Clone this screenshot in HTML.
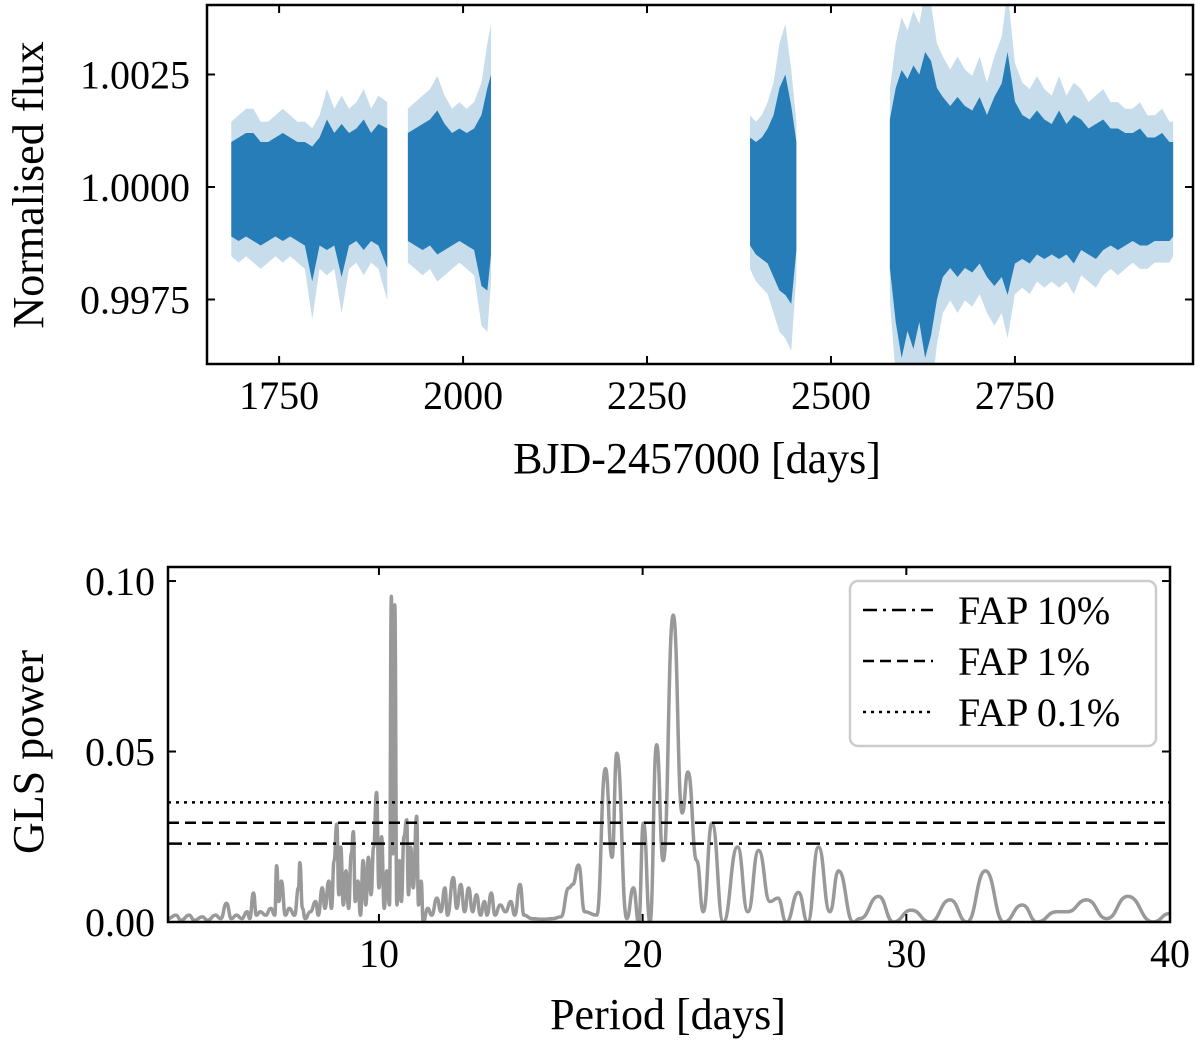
<!DOCTYPE html>
<html><head><meta charset="utf-8"><style>
html,body{margin:0;padding:0;background:#fff;}
svg{display:block;}
text{font-family:"Liberation Serif",serif;fill:#000;}
</style></head><body>
<svg id="fig" width="1200" height="1046" viewBox="0 0 1200 1046" xmlns="http://www.w3.org/2000/svg">
<g id="topPanel"></g>
<g id="botPanel"></g>
</svg>
<script>
// ---- Light curve data (envelopes per time bin, flux-1 in units of 1e-3) ----
const lcTimes = [1685,1695,1705,1715,1725,1735,1745,1755,1765,1775,1785,1795,1805,1815,1825,1835,1845,1855,1865,1875,1885,1897,
 null,
 1925,1935,1945,1955,1965,1975,1985,1995,2005,2015,2025,2033,2038,
 null,
 2390,2398,2406,2414,2422,2430,2438,2446,2453,
 null,
 2580,2588,2596,2604,2612,2620,2628,2636,2644,2652,2662,2672,2682,2692,2702,2712,2722,2732,2740,2750,2760,2770,2780,2790,2800,2810,2820,2830,2840,2850,2860,2870,2880,2890,2900,2910,2920,2930,2940,2950,2960,2965];
const lcCoreHi = [1.0,1.1,1.2,1.2,1.0,1.0,1.1,1.2,1.1,1.0,1.0,0.9,1.1,1.5,1.2,1.4,1.2,1.3,1.5,1.2,1.4,1.3,
 null,
 1.2,1.3,1.4,1.5,1.7,1.4,1.2,1.3,1.2,1.3,1.6,2.2,2.5,
 null,
 1.1,1.0,1.1,1.3,1.6,2.2,2.5,1.8,1.0,
 null,
 1.5,2.2,2.6,2.4,2.7,2.5,3.0,2.8,2.2,2.0,1.8,2.0,1.8,1.7,2.0,1.6,2.0,2.3,3.0,1.9,1.6,1.5,1.7,1.5,1.4,1.7,1.4,1.6,1.5,1.3,1.4,1.5,1.3,1.3,1.2,1.2,1.3,1.1,1.1,1.2,1.0,1.0];
const lcCoreLo = [-1.1,-1.2,-1.1,-1.2,-1.3,-1.2,-1.1,-1.2,-1.1,-1.2,-1.3,-2.1,-1.3,-1.4,-1.3,-2.0,-1.3,-1.2,-1.4,-1.2,-1.3,-1.8,
 null,
 -1.2,-1.3,-1.4,-1.3,-1.5,-1.4,-1.3,-1.2,-1.3,-1.4,-2.2,-2.3,-1.5,
 null,
 -1.3,-1.5,-1.6,-1.7,-2.0,-2.3,-2.4,-2.6,-1.4,
 null,
 -1.8,-3.0,-3.8,-3.2,-3.6,-3.0,-3.8,-3.3,-2.5,-2.0,-1.8,-2.0,-1.8,-1.9,-1.7,-2.0,-2.2,-2.0,-2.4,-1.7,-1.6,-1.7,-1.5,-1.6,-1.5,-1.6,-1.5,-1.7,-1.4,-1.5,-1.6,-1.4,-1.3,-1.4,-1.3,-1.2,-1.3,-1.3,-1.2,-1.2,-1.2,-1.1];
const lcTicks = [1750,2000,2250,2500,2750];
const lcTickLabels = ["1750","2000","2250","2500","2750"];
const fluxTicks = [1.0025,1.0000,0.9975];
const fluxTickLabels = ["1.0025","1.0000","0.9975"];

// ---- Periodogram data ----
const periods = [2.0,2.3,2.5,2.8,3.0,3.3,3.5,3.8,4.0,4.22,4.4,4.6,4.8,5.0,5.1,5.24,5.35,5.5,5.7,5.9,6.05,6.12,6.2,6.3,6.45,6.6,6.8,6.95,7.0,7.1,7.2,7.4,7.6,7.7,7.85,7.95,8.1,8.2,8.3,8.4,8.48,8.55,8.65,8.75,8.85,8.95,9.03,9.1,9.2,9.3,9.4,9.5,9.6,9.7,9.8,9.91,10.0,10.1,10.2,10.3,10.4,10.47,10.53,10.6,10.68,10.78,10.85,10.95,11.05,11.12,11.2,11.3,11.43,11.5,11.6,11.68,11.85,12.0,12.2,12.35,12.5,12.6,12.82,12.95,13.1,13.25,13.4,13.55,13.7,13.85,14.0,14.1,14.26,14.4,14.6,14.8,15.0,15.15,15.35,15.5,15.8,16.2,16.6,16.9,17.2,17.35,17.57,17.8,18.26,18.59,18.84,19.02,19.4,19.65,19.85,20.03,20.28,20.53,20.78,21.16,21.5,21.72,22.05,22.3,22.63,23.06,23.6,23.99,24.4,24.83,25.13,25.45,25.91,26.26,26.67,27.1,27.43,27.99,28.24,28.95,29.51,30.19,30.9,31.66,32.3,33.0,33.7,34.4,34.96,35.7,36.1,36.84,37.6,38.4,39.36,40.0];
const power = [0.001,0.002,0.0005,0.002,0.0005,0.0015,0.0005,0.002,0.001,0.0055,0.001,0.002,0.001,0.003,0.001,0.0085,0.002,0.003,0.002,0.004,0.002,0.0165,0.006,0.012,0.002,0.004,0.002,0.01,0.0174,0.004,0.001,0.003,0.006,0.002,0.01,0.004,0.012,0.004,0.018,0.0287,0.008,0.022,0.005,0.015,0.004,0.02,0.0265,0.006,0.012,0.002,0.018,0.005,0.019,0.008,0.022,0.038,0.010,0.025,0.004,0.015,0.005,0.0955,0.02,0.093,0.005,0.018,0.006,0.025,0.030,0.008,0.022,0.01,0.031,0.005,0.012,0.0,0.004,0.002,0.007,0.003,0.010,0.002,0.013,0.004,0.011,0.003,0.010,0.003,0.008,0.002,0.006,0.002,0.0085,0.002,0.005,0.003,0.006,0.002,0.011,0.002,0.001,0.0008,0.001,0.0015,0.01,0.011,0.0167,0.003,0.002,0.045,0.019,0.0495,0.001,0.010,0.0,0.029,0.0,0.052,0.018,0.090,0.032,0.044,0.018,0.003,0.029,0.0,0.022,0.003,0.021,0.006,0.007,0.0,0.0087,0.0,0.022,0.003,0.015,0.0,0.001,0.0075,0.0,0.0035,0.0,0.0065,0.0,0.015,0.0,0.005,0.0,0.003,0.003,0.0065,0.001,0.0075,0.0,0.0025];
const fapNames = ["FAP 10%","FAP 1%","FAP 0.1%"];
const fapLevels = [0.0230,0.0291,0.0351];
const periodTicks = [10,20,30,40];
const powerTicks = [0.00,0.05,0.10];
const powerTickLabels = ["0.00","0.05","0.10"];

const NS = "http://www.w3.org/2000/svg";
function mk(parent, tag, attrs, txt){const e=document.createElementNS(NS,tag);for(const k in attrs)e.setAttribute(k,attrs[k]);if(txt!==undefined)e.textContent=txt;parent.appendChild(e);return e;}

// ---------- TOP PANEL ----------
const topG = document.getElementById('topPanel');
const T = {l:207,r:1193,t:5,b:364,x0:1652,x1:2992,y0:0.996067,y1:1.004044};
const tx = v => T.l + (v-T.x0)/(T.x1-T.x0)*(T.r-T.l);
const ty = v => T.b - (v-T.y0)/(T.y1-T.y0)*(T.b-T.t);
const tdefs = mk(topG,'defs',{});
const tcp = mk(tdefs,'clipPath',{id:'tclip'});
mk(tcp,'rect',{x:T.l,y:T.t,width:T.r-T.l,height:T.b-T.t});
const tdata = mk(topG,'g',{'clip-path':'url(#tclip)',});

let segs=[],cur=[];
lcTimes.forEach((t,i)=>{ if(t===null){segs.push(cur);cur=[];} else cur.push(i); });
segs.push(cur);
segs.forEach(idx=>{
  let up=idx.map(i=>`${tx(lcTimes[i])},${ty(1+lcCoreHi[i]*1.45e-3)}`);
  let dn=idx.slice().reverse().map(i=>`${tx(lcTimes[i])},${ty(1+lcCoreLo[i]*1.4e-3)}`);
  const halo=mk(tdata,'polygon',{points:up.concat(dn).join(' '),fill:'#1f77b4','fill-opacity':0.25});
  
  
  up=idx.map(i=>`${tx(lcTimes[i])},${ty(1+lcCoreHi[i]*1e-3)}`);
  dn=idx.slice().reverse().map(i=>`${tx(lcTimes[i])},${ty(1+lcCoreLo[i]*1e-3)}`);
  const core=mk(tdata,'polygon',{points:up.concat(dn).join(' '),fill:'#1f77b4','fill-opacity':0.95});
  
  
});
mk(topG,'rect',{x:T.l,y:T.t,width:T.r-T.l,height:T.b-T.t,fill:'none',stroke:'#000','stroke-width':2.5,});
lcTicks.forEach((v,i)=>{
  const x=tx(v);
  mk(topG,'line',{x1:x,x2:x,y1:T.b,y2:T.b-8,stroke:'#000','stroke-width':2,});
  mk(topG,'line',{x1:x,x2:x,y1:T.t,y2:T.t+8,stroke:'#000','stroke-width':2,});
  mk(topG,'text',{x:x,y:409,'text-anchor':'middle','font-size':40,},lcTickLabels[i]);
});
fluxTicks.forEach((v,i)=>{
  const y=ty(v);
  mk(topG,'line',{x1:T.l,x2:T.l+8,y1:y,y2:y,stroke:'#000','stroke-width':2,});
  mk(topG,'line',{x1:T.r,x2:T.r-8,y1:y,y2:y,stroke:'#000','stroke-width':2,});
  mk(topG,'text',{x:190,y:y+14,'text-anchor':'end','font-size':40,},fluxTickLabels[i]);
});
mk(topG,'text',{x:697,y:473,'text-anchor':'middle','font-size':44,},'BJD-2457000 [days]');
mk(topG,'text',{x:0,y:0,'text-anchor':'middle','font-size':44,transform:'translate(43,185) rotate(-90)',},'Normalised flux');

// ---------- BOTTOM PANEL ----------
const botG = document.getElementById('botPanel');
const B = {l:168,r:1170,t:567,b:922,x0:2,x1:40,y0:0,y1:0.10412};
const bx = v => B.l + (v-B.x0)/(B.x1-B.x0)*(B.r-B.l);
const by = v => B.b - (v-B.y0)/(B.y1-B.y0)*(B.b-B.t);
const defs = mk(botG,'defs',{});
const cp = mk(defs,'clipPath',{id:'bclip'});
mk(cp,'rect',{x:B.l,y:B.t,width:B.r-B.l,height:B.b-B.t});
const n = Math.min(periods.length, power.length);
let d=`M${bx(periods[0])},${by(power[0])}`;
for(let i=1;i<n;i++){
  const xa=bx(periods[i-1]),xb=bx(periods[i]),ya=by(power[i-1]),yb=by(power[i]);
  const xm=(xa+xb)/2;
  d+=` C${xm},${ya} ${xm},${yb} ${xb},${yb}`;
}
mk(botG,'path',{d:d,fill:'none',stroke:'#999','stroke-width':3.5,'stroke-linejoin':'round','clip-path':'url(#bclip)',});
const dashes=['14,6,3,6','11,6','3,5'];
const fapKeys=['fap-10-line','fap-1-line','fap-0.1-line'];
fapLevels.forEach((v,i)=>{
  const ln=mk(botG,'line',{x1:B.l,x2:B.r,y1:by(v),y2:by(v),stroke:'#000','stroke-width':2.5,'stroke-dasharray':dashes[i]});
  
  
});
mk(botG,'rect',{x:B.l,y:B.t,width:B.r-B.l,height:B.b-B.t,fill:'none',stroke:'#000','stroke-width':2.5,});
periodTicks.forEach(v=>{
  const x=bx(v);
  mk(botG,'line',{x1:x,x2:x,y1:B.b,y2:B.b-8,stroke:'#000','stroke-width':2,});
  mk(botG,'line',{x1:x,x2:x,y1:B.t,y2:B.t+8,stroke:'#000','stroke-width':2,});
  mk(botG,'text',{x:x,y:967,'text-anchor':'middle','font-size':40,},String(v));
});
powerTicks.forEach((v,i)=>{
  const y=by(v);
  mk(botG,'line',{x1:B.l,x2:B.l+8,y1:y,y2:y,stroke:'#000','stroke-width':2,});
  mk(botG,'line',{x1:B.r,x2:B.r-8,y1:y,y2:y,stroke:'#000','stroke-width':2,});
  mk(botG,'text',{x:155,y:y+14,'text-anchor':'end','font-size':40,},powerTickLabels[i]);
});
mk(botG,'text',{x:668,y:1029,'text-anchor':'middle','font-size':44,},'Period [days]');
mk(botG,'text',{x:0,y:0,'text-anchor':'middle','font-size':44,transform:'translate(43,752) rotate(-90)',},'GLS power');
const lg=mk(botG,'g',{});
mk(lg,'rect',{x:850,y:581,width:306,height:165,rx:8,fill:'#fff','fill-opacity':0.85,stroke:'#ccc','stroke-width':2.5,});
fapNames.forEach((nm,i)=>{
  const y=610+i*51;
  const ln=mk(lg,'line',{x1:863,x2:933,y1:y,y2:y,stroke:'#000','stroke-width':2.5,'stroke-dasharray':dashes[i]});
  
  
  const t=mk(lg,'text',{x:958,y:y+14,'font-size':40},nm);
  
  
});
</script>
</body></html>
